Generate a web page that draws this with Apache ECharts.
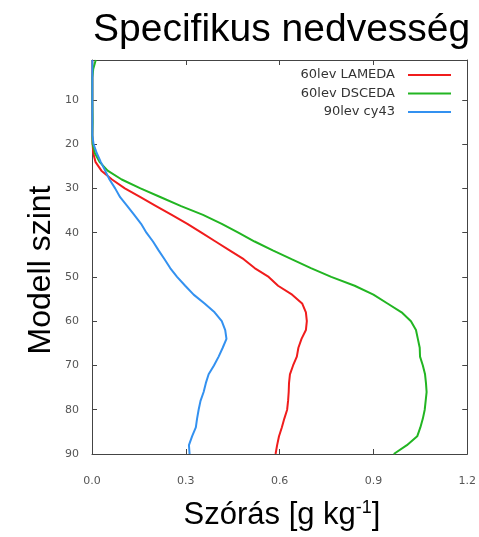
<!DOCTYPE html>
<html>
<head>
<meta charset="utf-8">
<script src="https://cdn.jsdelivr.net/npm/echarts@6/dist/echarts.min.js"></script>
<style>
html,body{margin:0;padding:0;background:#fff;}
#chart{width:479px;height:537px;}
</style>
</head>
<body>
<div id="chart"></div>
<script>
// Model levels (y axis)
const levels = [1,3,5,10,15,18,20,22,24,26,28,30,32,34,36,38,40,42,44,46,48,50,52,54,56,58,60,62,64,66,68,70,72,74,76,78,80,82,84,86,88,90];
// Standard deviation [g kg-1]
const lameda = [0.001,0.001,0.001,0.001,0.001,0.001,0.002,0.004,0.011,0.03,0.064,0.105,0.155,0.205,0.255,0.305,0.35,0.395,0.44,0.485,0.52,0.565,0.595,0.64,0.672,0.684,0.687,0.684,0.67,0.66,0.655,0.643,0.633,0.63,0.629,0.627,0.624,0.615,0.607,0.598,0.592,0.587];
const dsceda = [0.012,0.004,0.001,0.001,0.002,0.001,0.002,0.009,0.024,0.05,0.095,0.155,0.22,0.285,0.355,0.415,0.468,0.52,0.578,0.638,0.70,0.765,0.84,0.90,0.945,0.99,1.02,1.036,1.042,1.048,1.049,1.058,1.065,1.068,1.07,1.067,1.064,1.058,1.05,1.04,1.007,0.965];
const cy43 = [0.001,0.001,0.001,0.001,0.001,0.001,0.005,0.015,0.028,0.042,0.056,0.074,0.09,0.113,0.135,0.157,0.174,0.195,0.213,0.232,0.25,0.272,0.298,0.325,0.36,0.392,0.415,0.426,0.43,0.418,0.405,0.39,0.373,0.364,0.357,0.347,0.341,0.336,0.332,0.32,0.31,0.312];
const seriesNames = ['60lev LAMEDA','60lev DSCEDA','90lev cy43'];
const seriesColors = ['#f01c1c','#22b522','#3391f0'];
const yTicks = [10,20,30,40,50,60,70,80,90];
const titleText = 'Specifikus nedvesség';
const yName = 'Modell szint';

const allValues = [lameda, dsceda, cy43];
const chart = echarts.init(document.getElementById('chart'), null, {renderer:'canvas'});
const axisColor = '#444';
const labelStyle = {color:'#555', fontFamily:'DejaVu Sans', fontSize:11};

const option = {
  animation:false,
  backgroundColor:'#fff',
  title:{
    text:titleText, left:88, top:6,
    textStyle:{fontFamily:'Liberation Sans', fontSize:39, fontWeight:'normal', color:'#000'}
  },
  legend:{
    orient:'vertical', right:23, top:63, align:'right', padding:5,
    icon:'rect', itemWidth:43, itemHeight:2, itemGap:4.5,
    textStyle:{fontFamily:'DejaVu Sans', fontSize:13, color:'#333', lineHeight:14, padding:[0,8,0,0]},
    data:seriesNames
  },
  grid:{left:92, right:8, top:60, bottom:83, containLabel:false},
  xAxis:[{
    type:'value', min:0, max:1.2, interval:0.3, position:'bottom',
    axisLine:{show:true, onZero:false, lineStyle:{color:axisColor, width:1}},
    axisTick:{show:true, inside:true, length:5, lineStyle:{color:axisColor}},
    axisLabel:Object.assign({margin:22, formatter:v=>v.toFixed(1)}, labelStyle),
    splitLine:{show:false}
  },{
    type:'value', min:0, max:1.2, interval:0.3, position:'top',
    axisLine:{show:true, onZero:false, lineStyle:{color:axisColor, width:1}},
    axisTick:{show:true, inside:true, length:5, lineStyle:{color:axisColor}},
    axisLabel:{show:false}, splitLine:{show:false}
  }],
  yAxis:[{
    type:'value', min:1, max:90, inverse:true, position:'left',
    axisLine:{show:true, onZero:false, lineStyle:{color:axisColor, width:1}},
    axisTick:{show:true, inside:true, length:5, customValues:yTicks, lineStyle:{color:axisColor}},
    axisLabel:Object.assign({margin:13, customValues:yTicks}, labelStyle),
    splitLine:{show:false}
  },{
    type:'value', min:1, max:90, inverse:true, position:'right',
    axisLine:{show:true, onZero:false, lineStyle:{color:axisColor, width:1}},
    axisTick:{show:true, inside:true, length:5, customValues:yTicks, lineStyle:{color:axisColor}},
    axisLabel:{show:false}, splitLine:{show:false}
  }],
  series: seriesNames.map((n,i)=>({
    name:n, type:'line', xAxisIndex:0, yAxisIndex:0,
    symbol:'none', smooth:false,
    lineStyle:{color:seriesColors[i], width:2},
    itemStyle:{color:seriesColors[i]},
    data: levels.map((lv,k)=>[allValues[i][k], lv])
  })),
  graphic:[
    {type:'text', x:41, y:270, rotation:Math.PI/2,
     style:{text:yName, fontFamily:'Liberation Sans', fontSize:32, fill:'#000', align:'center', verticalAlign:'middle'}},
    {type:'text', x:282, y:515,
     style:{text:'Szórás [g kg{sup|-1}]', fontFamily:'Liberation Sans', fontSize:31, fill:'#000', align:'center', verticalAlign:'middle',
       rich:{sup:{fontFamily:'Liberation Sans', fontSize:18, fill:'#000', verticalAlign:'top', padding:[0,0,14,0]}}}}
  ]
};
chart.setOption(option);
</script>
</body>
</html>
